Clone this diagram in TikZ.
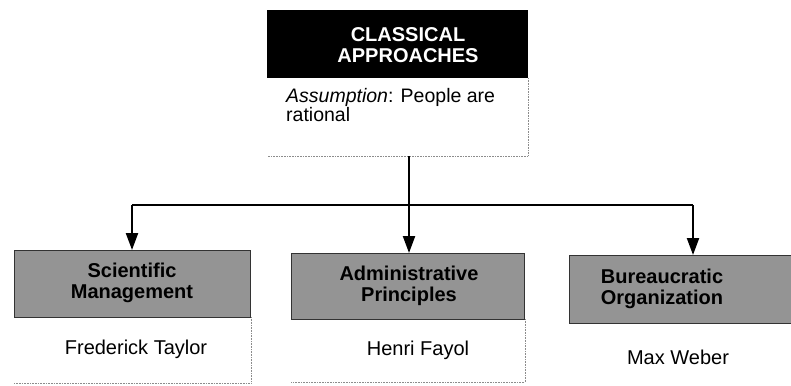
\documentclass[tikz,border=0pt]{standalone}
\usepackage{fontspec}
\setmainfont{Liberation Sans}
\usetikzlibrary{arrows.meta}
\tikzset{
  box/.style={rectangle, inner sep=0pt, outer sep=0pt},
  graybox/.style={box, fill=black!42, draw=black!80, line width=1pt},
  headbox/.style={box, fill=black},
  headtxt/.style={inner sep=0pt, text=white, align=center, font=\fontsize{20}{21}\selectfont\bfseries},
  graytxt/.style={inner sep=0pt, align=center, font=\fontsize{20}{21}\selectfont\bfseries},
  nametxt/.style={inner sep=0pt, font=\fontsize{20}{22}\selectfont},
  faint/.style={draw=black!45, densely dotted, line width=0.6pt},
  arr/.style={line width=2.2pt, -{Triangle[width=12pt,length=17pt]}},
  plain/.style={line width=2.2pt}
}
\begin{document}
\begin{tikzpicture}[x=1pt,y=-1pt]
\useasboundingbox (0,0) rectangle (791,385);
% top
\node[headbox, minimum width=261pt, minimum height=68pt] (head) at (397.5,44) {};
\node[headtxt] (headt) at (408,45) {CLASSICAL\\APPROACHES};
\node[box, minimum width=261pt, minimum height=78pt] (assum) at (397.5,117) {};
\node[inner sep=0pt, anchor=north west, align=left, font=\fontsize{19.5}{19}\selectfont] (assumt) at (286,88) {\textit{Assumption}: People are\\rational};
\draw[faint] (assum.north east) -- (assum.south east) -- (assum.south west);
% bottom boxes
\node[graybox, minimum width=236pt, minimum height=67pt] (sci) at (132,283.5) {};
\node[graytxt] (scit) at (132,283) {Scientific\\Management};
\node[box, minimum width=237pt, minimum height=66pt] (sciname) at (132.5,350) {};
\node[nametxt] (scin) at (136,349) {Frederick Taylor};
\draw[faint] (sciname.north east) -- (sciname.south east) -- (sciname.south west);

\node[graybox, minimum width=233pt, minimum height=66pt] (adm) at (407.5,286) {};
\node[graytxt] (admt) at (409,286) {Administrative\\Principles};
\node[box, minimum width=234pt, minimum height=63pt] (admname) at (408,350.5) {};
\node[nametxt] (admn) at (418,350) {Henri Fayol};
\draw[faint] (admname.north east) -- (admname.south east) -- (admname.south west);

\node[graybox, minimum width=226pt, minimum height=68pt] (bur) at (682,289) {};
\node[graytxt] (burt) at (662,289) {Bureaucratic\\Organization};
\node[nametxt] (burn) at (678,357) {Max Weber};
% connectors
\coordinate (bar) at (409,205);
\coordinate (burin) at ([xshift=11pt]bur.north);
\draw[arr] (assum.south -| bar) -- (adm.north -| bar);
\draw[plain] (sci.north |- bar) -- (burin |- bar);
\draw[arr] (sci.north |- bar) -- (sci.north);
\draw[arr] (burin |- bar) -- (burin);
\end{tikzpicture}
\end{document}
